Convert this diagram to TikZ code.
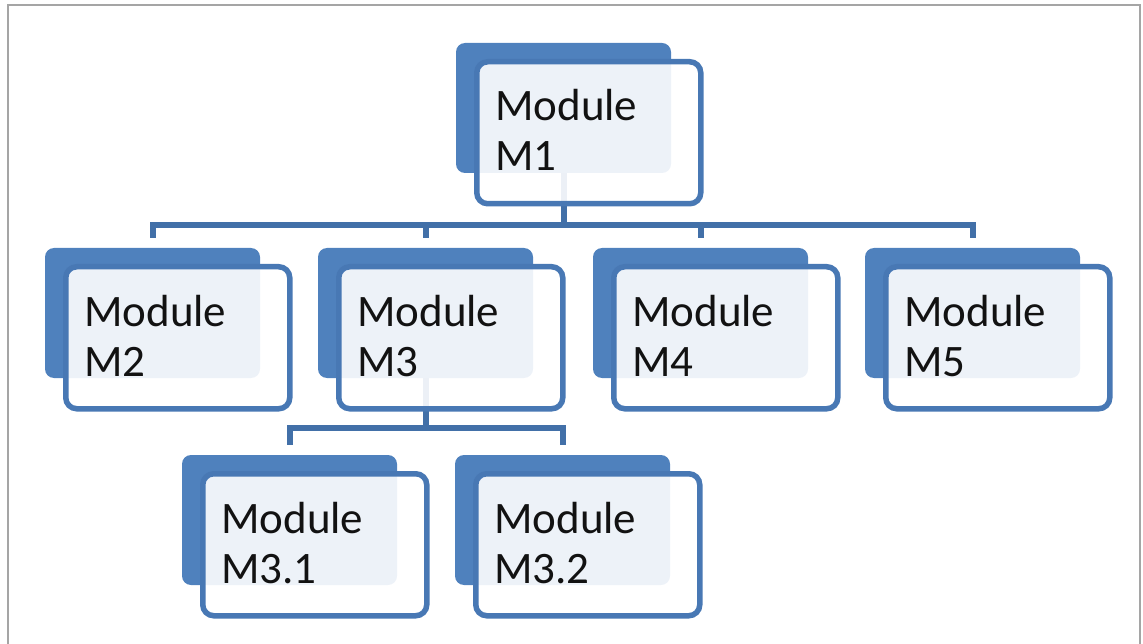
\documentclass[tikz,border=0pt]{standalone}
\usepackage{fontspec}
\setmainfont{Carlito}
\definecolor{boxblue}{RGB}{79,129,189}
\definecolor{edgeblue}{RGB}{72,120,180}
\definecolor{lineblue}{RGB}{66,112,168}
\definecolor{framegray}{RGB}{165,165,165}
\begin{document}
\begin{tikzpicture}[x=1pt,y=-1pt,
  backbox/.style={anchor=north west, fill=boxblue, draw=none, rounded corners=9pt,
    minimum width=215pt, minimum height=130pt, inner sep=0pt, outer sep=0pt},
  frontbox/.style={anchor=north west, draw=edgeblue, line width=5.5pt, fill=white,
    fill opacity=0.9, draw opacity=1, rounded corners=11pt,
    minimum width=224pt, minimum height=142pt, inner sep=0pt},
  lbl/.style={anchor=base west, align=left, inner sep=0pt, text=black!93,
    font=\fontsize{45pt}{50pt}\selectfont},
  conn/.style={draw=lineblue, line width=6pt},
  drop/.style={conn, shorten >=10pt}]
\useasboundingbox (0,0) rectangle (1143,644);
\draw[framegray, line width=2pt] (8,5) rectangle (1140,660);
% back boxes
\node[backbox] (b1) at (456,43) {};
\node[backbox] (b2) at (45,248) {};
\node[backbox] (b3) at (318,248) {};
\node[backbox] (b4) at (593,248) {};
\node[backbox] (b5) at (865,248) {};
\node[backbox] (b31) at (182,455) {};
\node[backbox] (b32) at (455,455) {};
% connectors
\coordinate (j1) at (b1.south |- 0,225);
\coordinate (j3) at (b3.south |- 0,428);
\draw[conn] (b1.south) -- (j1);
\draw[drop] (j1) -| (b2.north);
\draw[drop] (j1) -| (b3.north);
\draw[drop] (j1) -| (b4.north);
\draw[drop] (j1) -| (b5.north);
\draw[conn] (b3.south) -- (j3);
\draw[drop] (j3) -| (b31.north);
\draw[drop] (j3) -| (b32.north);
% front boxes
\foreach \n in {1,2,3,4,5,31,32}{
  \node[frontbox] (f\n) at ([xshift=18pt,yshift=-16pt]b\n.north west) {};
}
% labels
\node[lbl] (t1) at ([xshift=21pt,yshift=-112pt]f1.north west) {Module\\M1};
\node[lbl] (t2) at ([xshift=21pt,yshift=-112pt]f2.north west) {Module\\M2};
\node[lbl] (t3) at ([xshift=21pt,yshift=-112pt]f3.north west) {Module\\M3};
\node[lbl] (t4) at ([xshift=21pt,yshift=-112pt]f4.north west) {Module\\M4};
\node[lbl] (t5) at ([xshift=21pt,yshift=-112pt]f5.north west) {Module\\M5};
\node[lbl] (t31) at ([xshift=21pt,yshift=-112pt]f31.north west) {Module\\M3.1};
\node[lbl] (t32) at ([xshift=21pt,yshift=-112pt]f32.north west) {Module\\M3.2};
\end{tikzpicture}
\end{document}
